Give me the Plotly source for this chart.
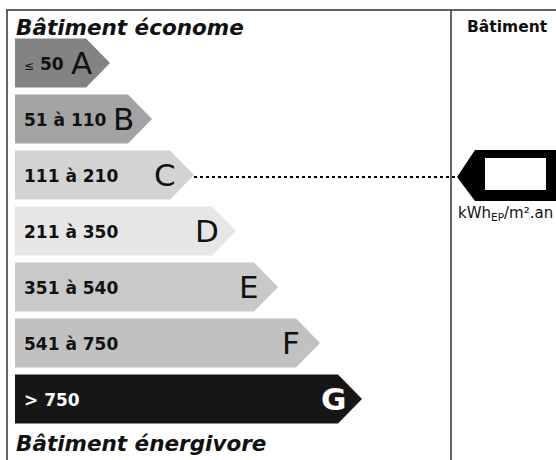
import plotly.graph_objects as go

# ---- data ----
classes = ["A", "B", "C", "D", "E", "F", "G"]
ranges = ["<span style='font-size:12px;font-weight:normal'>≤</span> 50", "51 à 110", "111 à 210",
          "211 à 350", "351 à 540", "541 à 750", "> 750"]
current_class = "C"
top_title = "Bâtiment économe"
bottom_title = "Bâtiment énergivore"
right_title = "Bâtiment"
unit_label = "kWh<sub>EP</sub>/m².an"

# ---- styling ----
bar_colors = ["#838383", "#a3a3a3", "#d3d3d3", "#e6e6e6", "#c9c9c9", "#c1c1c1", "#161616"]
text_colors = ["#111", "#111", "#111", "#111", "#111", "#111", "#ffffff"]
W, H = 556, 460
ROW0, STEP, HALF = 63, 56, 24.5
X0, TIP0, TIP_STEP, TIP_W = 15, 110, 42, 24
FONT = "DejaVu Sans"

fig = go.Figure()

def row_y(i):
    return ROW0 + STEP * i

# bars
for i, (c, col) in enumerate(zip(classes, bar_colors)):
    yc = row_y(i)
    tip = TIP0 + TIP_STEP * i
    body = tip - TIP_W
    xs = [X0, body, tip, body, X0, X0]
    ys = [yc - HALF, yc - HALF, yc, yc + HALF, yc + HALF, yc - HALF]
    fig.add_trace(go.Scatter(x=xs, y=ys, fill="toself", fillcolor=col, mode="lines",
                             line=dict(width=0, color=col), hoverinfo="skip", showlegend=False))
    fig.add_annotation(x=22, y=yc + 1, text=ranges[i], showarrow=False, xanchor="left", yanchor="middle",
                       font=dict(family=FONT, size=17, weight="bold", color=text_colors[i]))
    fig.add_annotation(x=tip - 29, y=yc, text=c, showarrow=False, xanchor="center", yanchor="middle",
                       font=dict(family=FONT, size=31, color=text_colors[i],
                                 weight="bold" if c == "G" else "normal"))

# frame
line_col = "#333333"
fig.add_trace(go.Scatter(x=[7, 7, W + 5], y=[H + 5, 10, 10], mode="lines",
                         line=dict(color=line_col, width=1.5), hoverinfo="skip", showlegend=False))
fig.add_trace(go.Scatter(x=[451, 451], y=[10, H + 5], mode="lines",
                         line=dict(color=line_col, width=1.5), hoverinfo="skip", showlegend=False))

# pointer to current class
ci = classes.index(current_class)
yc = row_y(ci) + 2
ctip = TIP0 + TIP_STEP * ci
ptip = 457
fig.add_trace(go.Scatter(x=[ctip, ptip], y=[yc, yc], mode="lines",
                         line=dict(color="#000", width=1.8, dash="dot"), hoverinfo="skip", showlegend=False))
fig.add_trace(go.Scatter(x=[ptip, 475, 556, 556, 475, ptip], y=[yc, yc - 27, yc - 27, yc + 24, yc + 24, yc],
                         fill="toself", fillcolor="#000", mode="lines", line=dict(width=0, color="#000"),
                         hoverinfo="skip", showlegend=False))
fig.add_trace(go.Scatter(x=[485, 546, 546, 485, 485], y=[yc - 19, yc - 19, yc + 13, yc + 13, yc - 19],
                         fill="toself", fillcolor="#fff", mode="lines", line=dict(width=0, color="#fff"),
                         hoverinfo="skip", showlegend=False))

# titles
fig.add_annotation(x=14, y=27, text=top_title, showarrow=False, xanchor="left", yanchor="middle",
                   font=dict(family=FONT, size=21.5, weight="bold", style="italic", color="#111"))
fig.add_annotation(x=14, y=443, text=bottom_title, showarrow=False, xanchor="left", yanchor="middle",
                   font=dict(family=FONT, size=21.5, weight="bold", style="italic", color="#111"))
fig.add_annotation(x=465, y=27, text=right_title, showarrow=False, xanchor="left", yanchor="middle",
                   font=dict(family=FONT, size=15.5, weight="bold", color="#111"))
fig.add_annotation(x=456, y=213, text=unit_label, showarrow=False, xanchor="left", yanchor="middle",
                   font=dict(family=FONT, size=15, color="#111"))

fig.update_layout(width=W, height=H, margin=dict(l=0, r=0, t=0, b=0),
                  paper_bgcolor="#fff", plot_bgcolor="#fff",
                  xaxis=dict(range=[0, W], visible=False, fixedrange=True),
                  yaxis=dict(range=[H, 0], visible=False, fixedrange=True))
fig.write_html("out.html", config={"displayModeBar": False},
               post_script="document.body.style.margin='0';document.body.style.overflow='hidden';")
